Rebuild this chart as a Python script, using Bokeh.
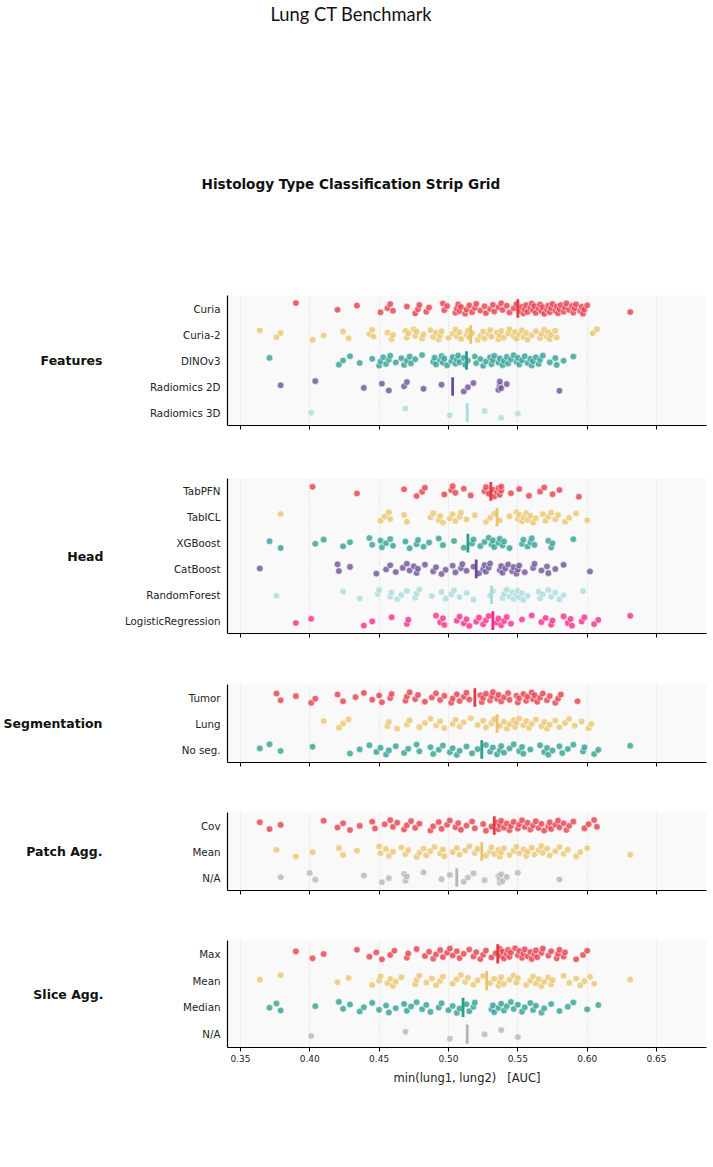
import numpy as np
from bokeh.plotting import figure
from bokeh.layouts import column
from bokeh.models import Range1d, FixedTicker, LinearAxis, Title, ColumnDataSource
from bokeh.embed import file_html
from bokeh.resources import INLINE

# ---------------------------------------------------------------------------
# AUC = min(lung1, lung2) for every run, split by each design factor
# ---------------------------------------------------------------------------

# Features
feat_curia = [.390, .420, .434, .451, .456, .458, .460, .470, .476, .478, .479, .484, .486, .496,
              .497, .499, .505, .506, .507, .508, .509, .512, .513, .515, .517, .519, .520, .523,
              .526, .527, .530, .532, .533, .536, .538, .539, .542, .544, .547, .549,
              .551, .553, .554, .555, .556, .557, .559, .560, .561, .562, .563, .565, .566, .567,
              .568, .569, .571, .572, .573, .574, .575, .577, .578, .579, .580, .581, .583, .584,
              .585, .587, .589, .590, .591, .592, .595, .596, .597, .598, .600, .631]
feat_curia2 = [.364, .376, .379, .402, .410, .424, .428, .443, .445, .446, .456, .459, .460, .469,
               .470, .471, .475, .476, .477, .481, .482, .487, .489, .491, .493, .494, .495, .500,
               .503, .505, .506, .508, .509, .513, .514, .515,
               .517, .521, .523, .525, .526, .529, .530, .531, .535, .536, .537, .538, .540, .543,
               .544, .547, .548, .549, .551, .553, .554, .556, .557, .560, .563, .566, .567, .569,
               .571, .572, .573, .574, .577, .578, .604, .607]
feat_dinov3 = [.371, .421, .424, .429, .436, .445, .450, .451, .453, .455, .457, .458, .462, .466,
               .468, .470, .472, .473, .476, .481, .489, .490, .491, .494, .495, .496, .497, .499,
               .502, .503, .505, .506, .507, .508, .511, .512,
               .514, .519, .520, .523, .525, .527, .530, .531, .532, .533, .536, .537, .539, .540,
               .542, .543, .545, .547, .549, .550, .551, .553, .555, .557, .559, .560, .561, .563,
               .565, .566, .568, .573, .577, .578, .583, .590]
feat_rad2d = [.379, .404, .439, .452, .457, .468, .470, .482, .495, .511, .514, .518, .536, .537,
              .537, .538, .542, .580]
feat_rad3d = [.401, .469, .501, .526, .538, .550]

# Head
head_tabpfn = [.402, .434, .468, .477, .481, .483, .497, .502, .503, .505, .511, .516, .526, .527,
               .529, .532, .533, .535, .536, .537, .538, .538, .545, .551, .558, .566, .569, .575,
               .580, .594]
head_tabicl = [.379, .451, .454, .457, .458, .468, .470, .487, .489, .493, .494, .496, .501, .503,
               .505, .508, .509, .513, .519, .527, .530, .533,
               .537, .544, .549, .550, .551, .553, .554, .556, .557, .559, .561, .563, .568, .570,
               .572, .574, .577, .579, .584, .587, .592, .600]
head_xgboost = [.371, .379, .404, .410, .424, .429, .443, .445, .451, .452, .455, .458, .460, .469,
                .472, .477, .478, .482, .486, .493, .496, .504, .511,
                .517, .518, .523, .526, .529, .531, .532, .533, .536, .537, .539, .540, .544, .553,
                .554, .557, .559, .560, .562, .572, .574, .575, .590]
head_catboost = [.364, .420, .421, .429, .448, .455, .458, .462, .467, .470, .472, .475, .477, .478,
                 .483, .489, .491, .495, .498, .503, .505, .509, .510, .513, .518,
                 .522, .525, .526, .527, .529, .530, .537, .538, .539, .541, .543, .546, .547, .549,
                 .550, .551, .555, .561, .562, .567, .571, .572, .577, .583, .602]
head_rforest = [.376, .424, .436, .449, .450, .458, .459, .463, .466, .470, .476, .477, .479, .488,
                .495, .498, .502, .504, .508, .513, .518, .530,
                .532, .539, .540, .542, .544, .546, .547, .549, .550, .551, .553, .554, .557, .565,
                .566, .568, .572, .574, .577, .580, .583, .597]
head_logreg = [.390, .401, .439, .445, .459, .470, .471, .491, .494, .496, .497, .506, .508, .511,
               .513, .515, .520, .522, .525, .527, .529,
               .535, .536, .538, .540, .542, .545, .553, .560, .567, .570, .574, .575, .583, .586,
               .588, .589, .596, .598, .605, .608, .631]

# Segmentation
seg_tumor = [.376, .379, .390, .401, .404, .420, .424, .433, .439, .445, .450, .452, .458, .459,
             .469, .470, .472, .476, .478, .483, .488, .491, .494, .497, .502, .503, .506, .508,
             .511, .513, .515,
             .523, .524, .525, .527, .530, .531, .532, .535, .536, .538, .540, .543, .544, .549,
             .550, .551, .554, .556, .557, .560, .561, .562, .564, .566, .568, .571, .573, .577,
             .579, .581, .593]
seg_lung = [.410, .421, .424, .428, .456, .457, .463, .470, .472, .479, .483, .487, .491, .494,
            .497, .503, .505, .508, .511, .516, .521, .525, .527, .531, .533,
            .537, .540, .542, .544, .547, .548, .549, .551, .554, .556, .558, .560, .563, .567,
            .569, .571, .573, .577, .580, .584, .587, .591, .596, .601, .603]
seg_none = [.364, .371, .379, .402, .429, .436, .443, .448, .451, .455, .457, .462, .468, .471,
            .477, .479, .487, .489, .493, .496, .501, .503, .506, .508, .513, .517, .521,
            .527, .530, .532, .535, .537, .538, .540, .544, .547, .551, .553, .554, .559, .566,
            .569, .571, .572, .575, .580, .582, .586, .590, .597, .598, .605, .608, .631]

# Patch aggregation
patch_cov = [.364, .371, .379, .410, .420, .424, .429, .436, .445, .447, .454, .458, .460, .463,
             .468, .470, .473, .476, .479, .487, .489, .493, .495, .499, .501, .505, .507, .509,
             .513, .517, .519, .525, .527, .531,
             .535, .536, .537, .538, .540, .542, .544, .545, .547, .550, .551, .553, .555, .557,
             .559, .561, .563, .565, .567, .569, .572, .573, .574, .577, .579, .580, .583, .585,
             .587, .590, .598, .601, .605, .607]
patch_mean = [.376, .390, .402, .421, .424, .434, .450, .451, .455, .457, .460, .466, .469, .471,
              .477, .479, .482, .484, .487, .490, .494, .496, .497, .503, .506, .508, .512, .515,
              .519, .521,
              .527, .530, .531, .533, .536, .537, .538, .540, .544, .547, .549, .551, .554, .556,
              .557, .560, .562, .565, .567, .568, .571, .573, .577, .580, .583, .586, .592, .595,
              .600, .631]
patch_na = [.379, .400, .404, .439, .452, .457, .468, .469, .470, .482, .495, .501,
            .511, .514, .518, .526, .536, .537, .537, .538, .539, .542, .550, .580]

# Slice aggregation
slice_max = [.390, .402, .410, .434, .443, .448, .452, .458, .461, .470, .471, .477, .483, .486,
             .489, .491, .494, .496, .499, .501, .503, .506, .508, .511, .515, .518, .520, .523,
             .525, .527, .531, .534,
             .537, .538, .539, .540, .542, .543, .544, .545, .548, .550, .551, .553, .554, .555,
             .557, .559, .560, .562, .563, .564, .567, .568, .572, .574, .578, .579, .580, .583,
             .584, .592, .597, .600]
slice_mean = [.364, .379, .420, .428, .445, .450, .451, .456, .458, .460, .462, .466, .476, .477,
              .479, .484, .488, .491, .494, .496, .503, .506, .509, .512, .514, .518, .521, .525,
              .530, .533, .536, .537, .538, .540, .544, .547, .549, .550, .556, .559, .561, .563,
              .565, .567, .569, .572, .574, .575, .583, .587, .592, .595, .598, .602, .605, .631]
slice_median = [.371, .376, .379, .404, .421, .424, .429, .436, .439, .445, .450, .455, .457, .462,
                .468, .470, .473, .477, .481, .484, .487, .493, .495, .500, .503, .506, .508,
                .513, .515, .518, .519, .531, .532, .533, .536, .538, .540, .542, .545, .547, .550,
                .553, .555, .559, .561, .563, .567, .569, .574, .580, .586, .590, .600, .608]
slice_na = [.401, .469, .501, .526, .538, .550]

x_ticks = [0.35, 0.40, 0.45, 0.50, 0.55, 0.60, 0.65]
x_tick_labels = ["0.35", "0.40", "0.45", "0.50", "0.55", "0.60", "0.65"]

groups = [
    ("Features", ["Curia", "Curia-2", "DINOv3", "Radiomics 2D", "Radiomics 3D"],
     [feat_curia, feat_curia2, feat_dinov3, feat_rad2d, feat_rad3d]),
    ("Head", ["TabPFN", "TabICL", "XGBoost", "CatBoost", "RandomForest", "LogisticRegression"],
     [head_tabpfn, head_tabicl, head_xgboost, head_catboost, head_rforest, head_logreg]),
    ("Segmentation", ["Tumor", "Lung", "No seg."], [seg_tumor, seg_lung, seg_none]),
    ("Patch Agg.", ["Cov", "Mean", "N/A"], [patch_cov, patch_mean, patch_na]),
    ("Slice Agg.", ["Max", "Mean", "Median", "N/A"], [slice_max, slice_mean, slice_median, slice_na]),
]

# ---------------------------------------------------------------------------
# styling / layout
# ---------------------------------------------------------------------------
PALETTE = ["#e63946", "#e9c46a", "#2a9d8f", "#6a4c93", "#a8dadc", "#f72585"]
NA_COLOR = "#b5b5b5"
FONT = "DejaVu Sans"

W = 713
LEFT, RIGHT = 225, 7
X_LO, X_HI = 0.3407, 0.686
PAD_TOP = 10
FRAME_H = [130, 155, 78, 78, 107]
PAD_BOTTOM = [43, 41, 40, 40, 60]
ROW_STANDOFF = 7
# gap between the row names and the bold group name, per panel
GROUP_STANDOFF = [44, 19, 76, 87, 77]


def spread(n, phase):
    # low-discrepancy vertical offsets so the dots of a row do not pile up
    k = np.arange(n)
    return ((k * 0.6180339887 + phase) % 1.0 - 0.5) * 0.42


def make_panel(idx, title, rows, values, last):
    n = len(rows)
    p = figure(width=W, height=PAD_TOP + FRAME_H[idx] + PAD_BOTTOM[idx],
               x_range=Range1d(X_LO, X_HI), y_range=Range1d(n - 0.5, -0.5),
               output_backend="svg", toolbar_location=None, title=None,
               min_border_left=LEFT, min_border_right=RIGHT,
               min_border_top=PAD_TOP, min_border_bottom=PAD_BOTTOM[idx])
    p.background_fill_color = "#f9f9f9"
    p.border_fill_color = "white"
    p.outline_line_color = None

    # grid
    p.ygrid.visible = False
    p.xgrid.ticker = FixedTicker(ticks=x_ticks)
    p.xgrid.grid_line_color = "#cfcfcf"
    p.xgrid.grid_line_dash = "1 2"
    p.xgrid.grid_line_width = 0.8

    # x axis
    xa = p.xaxis[0]
    xa.ticker = FixedTicker(ticks=x_ticks)
    xa.axis_line_color = "black"
    xa.axis_line_width = 1.2
    xa.major_tick_line_color = "black"
    xa.major_tick_out = 4
    xa.major_tick_in = 0
    xa.minor_tick_line_color = None
    xa.major_label_standoff = 3
    if last:
        xa.major_label_overrides = {t: s for t, s in zip(x_ticks, x_tick_labels)}
        xa.major_label_text_font = FONT
        xa.major_label_text_font_size = "9px"
        xa.major_label_text_color = "#222222"
        xa.axis_label = "min(lung1, lung2) \u00a0\u00a0[AUC]"
        xa.axis_label_text_font = FONT
        xa.axis_label_text_font_size = "11.5px"
        xa.axis_label_text_font_style = "normal"
        xa.axis_label_text_color = "#222222"
        xa.axis_label_standoff = 6
    else:
        xa.major_label_overrides = {t: "" for t in x_ticks}

    # y axis (row names)
    ya = p.yaxis[0]
    ya.ticker = FixedTicker(ticks=list(range(n)))
    ya.major_label_overrides = {i: r for i, r in enumerate(rows)}
    ya.major_label_text_font = FONT
    ya.major_label_text_font_size = "10.3px"
    ya.major_label_text_color = "#222222"
    ya.major_label_standoff = ROW_STANDOFF
    ya.major_tick_out = 0
    ya.major_tick_in = 0
    ya.major_tick_line_color = None
    ya.minor_tick_line_color = None
    ya.axis_line_color = "black"
    ya.axis_line_width = 1.2

    # outer left axis carrying the bold group name, centred on the panel
    mid = (n - 1) / 2
    ga = LinearAxis(ticker=FixedTicker(ticks=[mid]), major_label_overrides={mid: title},
                    axis_line_color=None, major_tick_line_color=None,
                    minor_tick_line_color=None, major_tick_out=0, major_tick_in=0,
                    major_label_standoff=GROUP_STANDOFF[idx],
                    major_label_text_font=FONT, major_label_text_font_size="12.5px",
                    major_label_text_font_style="bold", major_label_text_color="#111111")
    p.add_layout(ga, "left")

    for i, (name, vals) in enumerate(zip(rows, values)):
        color = NA_COLOR if name == "N/A" else PALETTE[i % len(PALETTE)]
        v = np.asarray(vals, dtype=float)
        src = ColumnDataSource(dict(x=v, y=i + spread(len(v), 0.13 * i + 0.07 * idx)))
        p.scatter("x", "y", source=src, marker="circle", size=6.6,
                  fill_color=color, fill_alpha=0.78,
                  line_color="white", line_alpha=0.9, line_width=0.6)
        med = float(np.median(v))
        p.segment(x0=[med], y0=[i - 0.36], x1=[med], y1=[i + 0.36],
                  line_color=color, line_width=2.8)
    return p


def header(height, text, font, size, style, offset, standoff):
    h = figure(width=W, height=height, output_backend="svg", toolbar_location=None,
               title=None, x_axis_location=None, y_axis_location=None,
               min_border_left=LEFT, min_border_right=RIGHT,
               min_border_top=0, min_border_bottom=0, outline_line_color=None)
    h.grid.visible = False
    h.add_layout(Title(text=text, align="left", offset=offset, standoff=standoff,
                       vertical_align="top", text_font=font, text_font_size=size,
                       text_font_style=style, text_color="#111111"), "above")
    return h


head_main = header(170, "Lung CT Benchmark", "Lato", "18.3px", "normal", 43, 4)
head_sub = header(115, "Histology Type Classification Strip Grid", FONT, "13.6px", "bold", -26, 10)

panels = [make_panel(k, g[0], g[1], g[2], k == len(groups) - 1) for k, g in enumerate(groups)]

layout = column(head_main, head_sub, *panels, spacing=0)
open("out.html", "w").write(file_html(layout, INLINE, title="Lung CT Benchmark"))
